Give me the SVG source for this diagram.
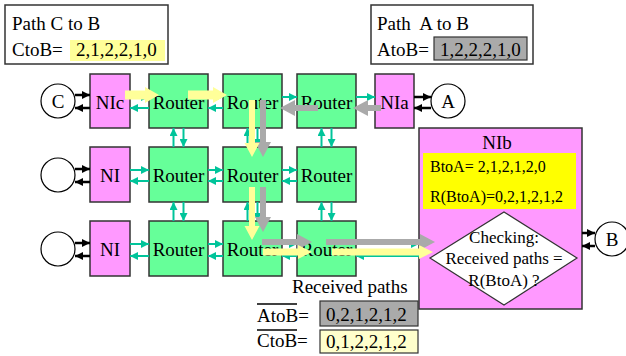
<svg xmlns="http://www.w3.org/2000/svg" width="626" height="356" viewBox="0 0 626 356">
  <style>
    text { font-family: "Liberation Serif", "Times New Roman", serif; fill: #000; }
    .lbl { font-size: 19px; }
    .mid { text-anchor: middle; }
    .ni { fill: #ff99ff; stroke: #333; stroke-width: 1.5; }
    .rt { fill: #66ff99; stroke: #333; stroke-width: 1.5; }
    .box { fill: #fff; stroke: #333; stroke-width: 1.5; }
    .end { fill: #fff; stroke: #000; stroke-width: 1.2; }
    .link { stroke: #00c49a; stroke-width: 2; fill: none; marker-end: url(#tealHead); }
    .io { stroke: #000; stroke-width: 2.5; fill: none; marker-end: url(#blackHead); }
    .pathC { fill: #ffff99; }
    .pathA { fill: #aaaaaa; }
  </style>
  <defs>
    <marker id="tealHead" viewBox="0 0 8 8" refX="8" refY="4" markerWidth="8" markerHeight="8" markerUnits="userSpaceOnUse" orient="auto">
      <path d="M0,0 L8,4 L0,8 Z" fill="#00c49a"/>
    </marker>
    <marker id="blackHead" viewBox="0 0 8 8" refX="8" refY="4" markerWidth="8" markerHeight="8" markerUnits="userSpaceOnUse" orient="auto">
      <path d="M0,0 L8,4 L0,8 Z" fill="#000"/>
    </marker>
  </defs>

  <!-- path C to B legend -->
  <g id="legendC">
    <rect class="box" x="5" y="5" width="163" height="59"/>
    <text class="lbl" x="12" y="30">Path C to B</text>
    <text class="lbl" x="12" y="56">CtoB=</text>
    <rect x="70" y="40" width="95" height="21" fill="#ffff99"/>
    <text class="lbl" x="76" y="56">2,1,2,2,1,0</text>
  </g>

  <!-- path A to B legend -->
  <g id="legendA">
    <rect class="box" x="371" y="5" width="162" height="59"/>
    <text class="lbl" x="377" y="30" xml:space="preserve">Path  A to B</text>
    <text class="lbl" x="377" y="56">AtoB=</text>
    <rect x="434" y="37" width="93" height="23" fill="#aaaaaa" stroke="#333" stroke-width="1.2"/>
    <text class="lbl" x="440" y="56">1,2,2,2,1,0</text>
  </g>

  <!-- end points -->
  <g id="nodeC"><circle class="end" cx="58" cy="101" r="17"/><text class="lbl mid" x="58" y="108">C</text></g>
  <g id="node2"><circle class="end" cx="58" cy="175" r="17"/></g>
  <g id="node3"><circle class="end" cx="58" cy="249" r="17"/></g>
  <g id="nodeA"><circle class="end" cx="448" cy="101" r="17"/><text class="lbl mid" x="448" y="108">A</text></g>
  <g id="nodeB"><circle class="end" cx="612" cy="239" r="17"/><text class="lbl mid" x="612" y="246">B</text></g>

  <!-- network interfaces -->
  <g id="niC"><rect class="ni" x="90" y="74" width="40" height="54"/><text class="lbl mid" x="110" y="109">NIc</text></g>
  <g id="ni2"><rect class="ni" x="90" y="147" width="40" height="55"/><text class="lbl mid" x="110" y="182">NI</text></g>
  <g id="ni3"><rect class="ni" x="90" y="221" width="40" height="55"/><text class="lbl mid" x="110" y="256">NI</text></g>
  <g id="niA"><rect class="ni" x="375" y="74" width="39" height="54"/><text class="lbl mid" x="394.5" y="109">NIa</text></g>

  <!-- routers -->
  <g id="r11"><rect class="rt" x="149" y="74" width="59" height="54"/><text class="lbl mid" x="178.5" y="109">Router</text></g>
  <g id="r12"><rect class="rt" x="223" y="74" width="59" height="54"/><text class="lbl mid" x="252.5" y="109">Router</text></g>
  <g id="r13"><rect class="rt" x="297" y="74" width="59" height="54"/><text class="lbl mid" x="326.5" y="109">Router</text></g>
  <g id="r21"><rect class="rt" x="149" y="147" width="59" height="55"/><text class="lbl mid" x="178.5" y="182">Router</text></g>
  <g id="r22"><rect class="rt" x="223" y="147" width="59" height="55"/><text class="lbl mid" x="252.5" y="182">Router</text></g>
  <g id="r23"><rect class="rt" x="297" y="147" width="59" height="55"/><text class="lbl mid" x="326.5" y="182">Router</text></g>
  <g id="r31"><rect class="rt" x="149" y="221" width="59" height="55"/><text class="lbl mid" x="178.5" y="256">Router</text></g>
  <g id="r32"><rect class="rt" x="223" y="221" width="59" height="55"/><text class="lbl mid" x="252.5" y="256">Router</text></g>
  <g id="r33"><rect class="rt" x="297" y="221" width="59" height="55"/><text class="lbl mid" x="326.5" y="256">Router</text></g>

  <!-- destination interface with checker -->
  <g id="niB">
    <rect class="ni" x="419" y="128" width="163" height="181"/>
    <text class="lbl mid" x="497" y="149">NIb</text>
    <rect x="423" y="153" width="153" height="56" fill="#ffff00"/>
    <text x="430" y="172" font-size="16">BtoA= 2,1,2,1,2,0</text>
    <text x="430" y="202" font-size="16">R(BtoA)=0,2,1,2,1,2</text>
    <polygon points="504,212 577,258 504,305 430,258" fill="#fff" stroke="#333" stroke-width="1.2"/>
    <text class="mid" x="504" y="243" font-size="17">Checking:</text>
    <text class="mid" x="504" y="264" font-size="17">Received paths =</text>
    <text class="mid" x="504" y="286" font-size="17">R(BtoA) ?</text>
  </g>

  <!-- received paths -->
  <g id="received">
    <text class="lbl" x="292" y="293">Received paths</text>
    <text class="lbl" x="257" y="322">AtoB=</text>
    <line x1="257" y1="304" x2="297" y2="304" stroke="#000" stroke-width="1.5"/>
    <rect x="320" y="301" width="98" height="25" fill="#aaaaaa" stroke="#333" stroke-width="1.2"/>
    <text class="lbl" x="326" y="321">0,2,1,2,1,2</text>
    <text class="lbl" x="257" y="347">CtoB=</text>
    <line x1="257" y1="330" x2="297" y2="330" stroke="#000" stroke-width="1.5"/>
    <rect x="320" y="330" width="98" height="23" fill="#ffffcc" stroke="#333" stroke-width="1.2"/>
    <text class="lbl" x="326" y="348">0,1,2,2,1,2</text>
  </g>

  <g id="connectors">
    <!-- endpoint to interface -->
    <line class="io" x1="75" y1="95" x2="90" y2="95"/>
    <line class="io" x1="90" y1="108" x2="75" y2="108"/>
    <line class="io" x1="75" y1="169" x2="90" y2="169"/>
    <line class="io" x1="90" y1="182" x2="75" y2="182"/>
    <line class="io" x1="75" y1="243" x2="90" y2="243"/>
    <line class="io" x1="90" y1="256" x2="75" y2="256"/>
    <line class="io" x1="414" y1="97" x2="431" y2="97"/>
    <line class="io" x1="431" y1="108" x2="414" y2="108"/>
    <line class="io" x1="582" y1="233" x2="595" y2="233"/>
    <line class="io" x1="595" y1="246" x2="582" y2="246"/>

    <!-- row 1 links -->
    <line class="link" x1="130" y1="97" x2="149" y2="97"/>
    <line class="link" x1="149" y1="108" x2="130" y2="108"/>
    <line class="link" x1="208" y1="97" x2="223" y2="97"/>
    <line class="link" x1="223" y1="108" x2="208" y2="108"/>
    <line class="link" x1="282" y1="97" x2="297" y2="97"/>
    <line class="link" x1="297" y1="108" x2="282" y2="108"/>
    <line class="link" x1="356" y1="97" x2="375" y2="97"/>
    <line class="link" x1="375" y1="108" x2="356" y2="108"/>
    <!-- row 2 links -->
    <line class="link" x1="130" y1="170" x2="149" y2="170"/>
    <line class="link" x1="149" y1="181" x2="130" y2="181"/>
    <line class="link" x1="208" y1="170" x2="223" y2="170"/>
    <line class="link" x1="223" y1="181" x2="208" y2="181"/>
    <line class="link" x1="282" y1="170" x2="297" y2="170"/>
    <line class="link" x1="297" y1="181" x2="282" y2="181"/>
    <!-- row 3 links -->
    <line class="link" x1="130" y1="244" x2="149" y2="244"/>
    <line class="link" x1="149" y1="256" x2="130" y2="256"/>
    <line class="link" x1="208" y1="244" x2="223" y2="244"/>
    <line class="link" x1="223" y1="256" x2="208" y2="256"/>
    <line class="link" x1="282" y1="244" x2="297" y2="244"/>
    <line class="link" x1="297" y1="256" x2="282" y2="256"/>
    <line class="link" x1="356" y1="244" x2="419" y2="244"/>
    <line class="link" x1="419" y1="256" x2="356" y2="256"/>
    <!-- vertical links row 1 / row 2 -->
    <line class="link" x1="173.5" y1="147" x2="173.5" y2="128"/>
    <line class="link" x1="183.5" y1="128" x2="183.5" y2="147"/>
    <line class="link" x1="247.5" y1="147" x2="247.5" y2="128"/>
    <line class="link" x1="257.5" y1="128" x2="257.5" y2="147"/>
    <line class="link" x1="321.5" y1="147" x2="321.5" y2="128"/>
    <line class="link" x1="331.5" y1="128" x2="331.5" y2="147"/>
    <!-- vertical links row 2 / row 3 -->
    <line class="link" x1="173.5" y1="221" x2="173.5" y2="202"/>
    <line class="link" x1="183.5" y1="202" x2="183.5" y2="221"/>
    <line class="link" x1="247.5" y1="221" x2="247.5" y2="202"/>
    <line class="link" x1="257.5" y1="202" x2="257.5" y2="221"/>
    <line class="link" x1="321.5" y1="221" x2="321.5" y2="202"/>
    <line class="link" x1="331.5" y1="202" x2="331.5" y2="221"/>

    <!-- route A to B -->
    <polygon class="pathA" points="381,105 368,105 368,100 353,108 368,116 368,111 381,111"/>
    <polygon class="pathA" points="318,105 295,105 295,100 280,108 295,116 295,111 318,111"/>
    <polygon class="pathA" points="260,100 266,100 266,142 271,142 263,157 255,142 260,142"/>
    <polygon class="pathA" points="260,187 266,187 266,217 271,217 263,232 255,217 260,217"/>
    <polygon class="pathA" points="262,239 297,239 297,234 312,242 297,250 297,245 262,245"/>
    <polygon class="pathA" points="326,239 420,239 420,234 435,242 420,250 420,245 326,245"/>

    <!-- route C to B -->
    <polygon class="pathC" points="125,90.5 145,90.5 145,87 159,95 145,103 145,99.5 125,99.5"/>
    <polygon class="pathC" points="188,90.5 213,90.5 213,87 227,95 213,103 213,99.5 188,99.5"/>
    <polygon class="pathC" points="249,100 255,100 255,143 259.5,143 252,157 244.5,143 249,143"/>
    <polygon class="pathC" points="249,187 255,187 255,226 259.5,226 252,240 244.5,226 249,226"/>
    <polygon class="pathC" points="263,248.5 298,248.5 298,245 312,252 298,259 298,255.5 263,255.5"/>
    <polygon class="pathC" points="332,248.5 419,248.5 419,245 433,252 419,259 419,255.5 332,255.5"/>
  </g>
</svg>
